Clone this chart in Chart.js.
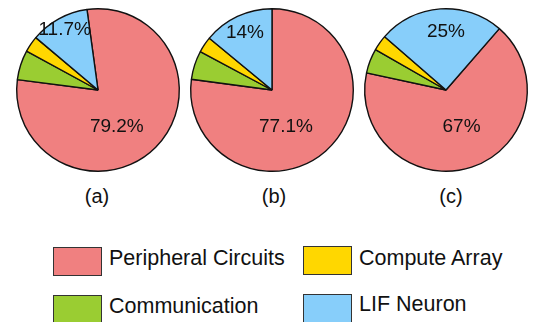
<!DOCTYPE html>
<html>
<head>
<meta charset="utf-8">
<script src="https://cdn.jsdelivr.net/npm/chart.js@4.4.1/dist/chart.umd.min.js"></script>
<style>
  html, body { margin: 0; padding: 0; background: #fff; }
  body { width: 538px; height: 322px; position: relative; overflow: hidden;
         font-family: "Liberation Sans", Arial, sans-serif; color: #111; }
  .pie { position: absolute; top: 0; width: 174px; height: 180px; }
  .cap { position: absolute; top: 185px; width: 60px; margin-left: -30px; text-align: center;
         font-size: 20px; line-height: 23px; }
  .sw { position: absolute; width: 47px; height: 27px; border: 1px solid #333; }
  .lt { position: absolute; font-size: 21.5px; line-height: 24px; white-space: nowrap; }
</style>
</head>
<body>
<canvas id="pieA" class="pie" width="174" height="180" style="left:11px"></canvas>
<canvas id="pieB" class="pie" width="174" height="180" style="left:185px"></canvas>
<canvas id="pieC" class="pie" width="174" height="180" style="left:359px"></canvas>
<div id="captions"></div>
<div id="legend"></div>
<script>
// Energy breakdown per configuration (percent)
const categories = ['Peripheral Circuits', 'Communication', 'Compute Array', 'LIF Neuron'];
const valuesA = [79.2, 5.9, 3.2, 11.7];
const valuesB = [77.1, 5.7, 3.2, 14];
const valuesC = [67, 4.9, 3.1, 25];
const captions = ['(a)', '(b)', '(c)'];

const colors = ['#F08080', '#9ACD32', '#FFD700', '#87CEFA'];

// Percent labels drawn inside the slices
const sliceLabels = {
  id: 'sliceLabels',
  afterDatasetsDraw(chart, args, opts) {
    const ctx = chart.ctx;
    const meta = chart.getDatasetMeta(0);
    const values = chart.data.datasets[0].data;
    ctx.save();
    ctx.font = opts.font;
    ctx.fillStyle = opts.color;
    ctx.textAlign = 'center';
    ctx.textBaseline = 'middle';
    opts.spots.forEach(spot => {
      const arc = meta.data[spot.index];
      const p = arc.getProps(['x', 'y', 'startAngle', 'endAngle', 'outerRadius'], true);
      const ang = spot.angle != null ? (spot.angle - 90) * Math.PI / 180
                                     : (p.startAngle + p.endAngle) / 2;
      const r = p.outerRadius * spot.r;
      ctx.fillText(values[spot.index] + '%', p.x + Math.cos(ang) * r, p.y + Math.sin(ang) * r);
    });
    ctx.restore();
  }
};

function makePie(id, values, rotation, spots) {
  return new Chart(document.getElementById(id), {
    type: 'pie',
    data: {
      labels: categories,
      datasets: [{
        data: values,
        backgroundColor: colors,
        borderColor: '#111',
        borderWidth: 1.4
      }]
    },
    options: {
      responsive: false,
      animation: false,
      rotation: rotation,
      layout: { padding: { left: 5, right: 5, top: 8, bottom: 8 } },
      plugins: {
        legend: { display: false },
        tooltip: { enabled: false },
        sliceLabels: {
          font: '19px "Liberation Sans", Arial, sans-serif',
          color: '#111',
          spots: spots
        }
      }
    },
    plugins: [sliceLabels]
  });
}

makePie('pieA', valuesA, -7.8, [{ index: 0, angle: 153, r: 0.51 }, { index: 3, r: 0.85 }]);
makePie('pieB', valuesB, 0,    [{ index: 0, angle: 159, r: 0.48 }, { index: 3, r: 0.78 }]);
makePie('pieC', valuesC, 41,   [{ index: 0, angle: 157, r: 0.49 }, { index: 3, angle: 0, r: 0.72 }]);

// Sub-figure captions
const capX = [97, 274, 451];
const capBox = document.getElementById('captions');
captions.forEach((t, i) => {
  const d = document.createElement('div');
  d.className = 'cap';
  d.style.left = capX[i] + 'px';
  d.textContent = t;
  capBox.appendChild(d);
});

// Legend, two columns by two rows
const legendOrder = [0, 2, 1, 3];
const legendCells = [
  { x: 53, y: 247, ty: 246 },
  { x: 303, y: 246, ty: 246 },
  { x: 53, y: 295, ty: 293.5 },
  { x: 303, y: 294, ty: 292 }
];
const legBox = document.getElementById('legend');
legendOrder.forEach((ci, k) => {
  const cell = legendCells[k];
  const sw = document.createElement('div');
  sw.className = 'sw';
  sw.style.left = cell.x + 'px';
  sw.style.top = cell.y + 'px';
  sw.style.background = colors[ci];
  legBox.appendChild(sw);
  const lt = document.createElement('div');
  lt.className = 'lt';
  lt.style.left = (cell.x + 56) + 'px';
  lt.style.top = cell.ty + 'px';
  lt.textContent = categories[ci];
  legBox.appendChild(lt);
});
</script>
</body>
</html>
